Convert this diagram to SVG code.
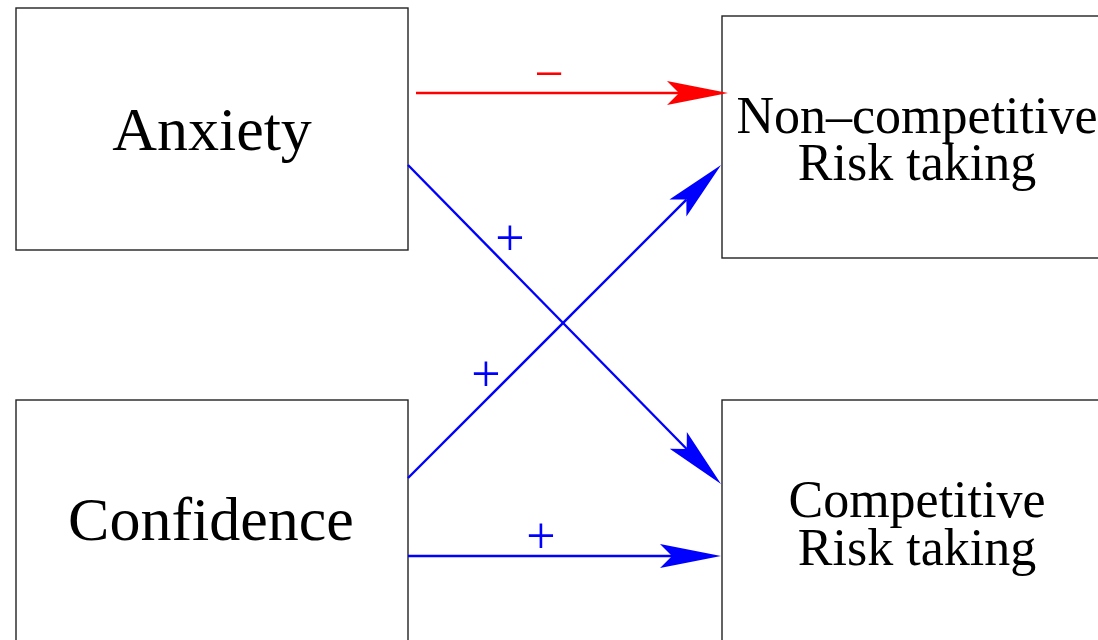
<svg xmlns="http://www.w3.org/2000/svg" width="1098" height="640" viewBox="0 0 1098 640">
  <style>
    .box { fill: #ffffff; stroke: #222222; stroke-width: 1.4; }
    .label { font-family: "Liberation Serif", "Times New Roman", serif; fill: #000000; text-anchor: middle; }
    .big { font-size: 62px; }
    .small { font-size: 52px; }
    .sign { font-family: "Liberation Serif", "Times New Roman", serif; font-size: 52px; text-anchor: middle; }
    .edge { fill: none; stroke-width: 2.4; }
  </style>
  <defs>
    <!-- barbed arrowheads, origin at the notch, tip 49px ahead -->
    <marker id="headBlue" markerUnits="userSpaceOnUse" markerWidth="1" markerHeight="1" refX="0" refY="0" orient="auto" overflow="visible">
      <path d="M49,0 L-12,-12 L0,0 L-12,12 Z" fill="#0000ff"/>
    </marker>
    <marker id="headRed" markerUnits="userSpaceOnUse" markerWidth="1" markerHeight="1" refX="0" refY="0" orient="auto" overflow="visible">
      <path d="M49,0 L-12,-12 L0,0 L-12,12 Z" fill="#ff0000"/>
    </marker>
  </defs>
  <rect width="1098" height="640" fill="#ffffff"/>

  <g id="anxiety">
    <rect class="box" x="16" y="8" width="392" height="242"/>
    <text class="label big" x="212" y="150">Anxiety</text>
  </g>
  <g id="confidence">
    <rect class="box" x="16" y="400" width="392" height="260"/>
    <text class="label big" x="211" y="540">Confidence</text>
  </g>
  <g id="noncompetitive">
    <rect class="box" x="722" y="16" width="400" height="242"/>
    <text class="label small" x="917" y="133">Non–competitive</text>
    <text class="label small" x="917" y="180">Risk taking</text>
  </g>
  <g id="competitive">
    <rect class="box" x="722" y="400" width="400" height="260"/>
    <text class="label small" x="917" y="517">Competitive</text>
    <text class="label small" x="917" y="565">Risk taking</text>
  </g>

  <g id="connectors">
    <path class="edge" stroke="#ff0000" d="M416,93 L679,93" marker-end="url(#headRed)"/>
    <text class="sign" fill="#ff0000" x="549" y="91">−</text>

    <path class="edge" stroke="#0000ff" d="M408,165 L686.7,449" marker-end="url(#headBlue)"/>
    <text class="sign" fill="#0000ff" x="510" y="255">+</text>

    <path class="edge" stroke="#0000ff" d="M408,478 L686.4,199.6" marker-end="url(#headBlue)"/>
    <text class="sign" fill="#0000ff" x="486" y="391">+</text>

    <path class="edge" stroke="#0000ff" d="M408,556 L672,556" marker-end="url(#headBlue)"/>
    <text class="sign" fill="#0000ff" x="541" y="553">+</text>
  </g>
</svg>
